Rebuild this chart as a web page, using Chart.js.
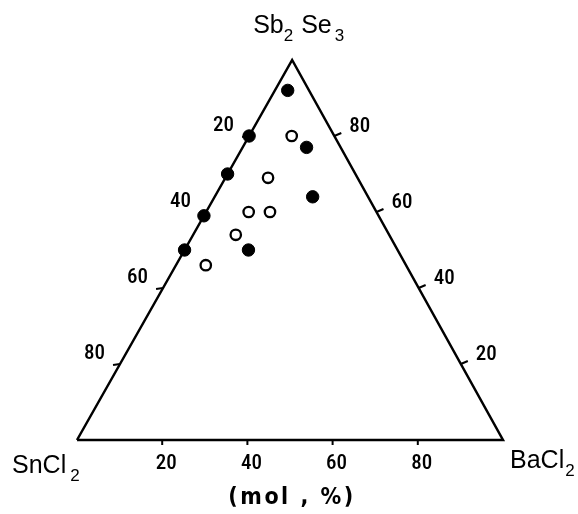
<!DOCTYPE html>
<html lang="en">
  <head>
    <meta charset="UTF-8" />
    <title>Sb2Se3 - SnCl2 - BaCl2</title>
    <style>
      body { margin: 0; background: #fff; }
    </style>
  </head>
  <body>
    <canvas id="ternary" width="578" height="514"></canvas>
    <script src="https://cdn.jsdelivr.net/npm/chart.js"></script>
    <script>
      // compositions, mol %
      const tickValues = [20, 40, 60, 80];

      const filledSb2Se3 = [92, 77, 80, 70, 64, 59, 50, 50];
      const filledBaCl2 = [3, 15, 0, 0, 23, 0, 15, 0];
      const filledSnCl2 = [5, 8, 20, 30, 13, 41, 35, 50];

      const openSb2Se3 = [80, 69, 60, 60, 54, 46];
      const openBaCl2 = [10, 10, 10, 15, 10, 7];
      const openSnCl2 = [10, 21, 30, 25, 36, 47];

      // apex sits a little right of the base centre in the original drawing
      const APEX = 0.505;

      const toXY = (sb, ba, sn) => {
        const total = sb + ba + sn;
        const a = (sb / total) * 100;
        const b = (ba / total) * 100;
        return { x: b + APEX * a, y: a };
      };

      const filledPoints = filledSb2Se3.map((v, i) =>
        toXY(v, filledBaCl2[i], filledSnCl2[i])
      );
      const openPoints = openSb2Se3.map((v, i) =>
        toXY(v, openBaCl2[i], openSnCl2[i])
      );
      const frame = [
        toXY(0, 0, 100),
        toXY(0, 100, 0),
        toXY(100, 0, 0),
        toXY(0, 0, 100),
      ];

      const SANS = '"Liberation Sans", Arial, sans-serif';
      const NUM = '500 21px "Roboto Condensed", "DejaVu Sans Condensed", sans-serif';

      const drawFormula = (ctx, parts, x, y) => {
        parts.forEach(([text, sub, gap]) => {
          ctx.font = (sub ? "17px " : "25px ") + SANS;
          ctx.fillText(text, x, sub ? y + 8 : y);
          x += ctx.measureText(text).width + (gap || 0);
        });
      };

      const ternaryAxes = {
        id: "ternaryAxes",
        afterDatasetsDraw(chart) {
          const { ctx } = chart;
          const { x, y } = chart.scales;
          const px = (p) => [x.getPixelForValue(p.x), y.getPixelForValue(p.y)];
          const seg = (x1, y1, x2, y2) => {
            ctx.beginPath();
            ctx.moveTo(x1, y1);
            ctx.lineTo(x2, y2);
            ctx.stroke();
          };
          ctx.save();
          ctx.strokeStyle = "#000";
          ctx.fillStyle = "#000";
          ctx.lineWidth = 2;
          ctx.font = NUM;
          ctx.textBaseline = "alphabetic";

          tickValues.forEach((v) => {
            // BaCl2 along the base
            const [bx, by] = px(toXY(0, v, 100 - v));
            seg(bx, by, bx, by + 5);
            ctx.textAlign = "center";
            ctx.fillText(String(v), bx + 4, by + 29);

            // Sb2Se3 along the right side
            const [rx, ry] = px(toXY(v, 100 - v, 0));
            seg(rx, ry, rx + 7, ry - 3);
            ctx.textAlign = "left";
            ctx.fillText(String(v), rx + 15, ry - 4);

            // SnCl2 along the left side
            const [lx, ly] = px(toXY(100 - v, 0, v));
            seg(lx, ly, lx - 7, ly + 1);
            ctx.textAlign = "right";
            ctx.fillText(String(v), lx - 15, ly - 5);
          });

          const [Lx, Ly] = px(frame[0]);
          const [Rx, Ry] = px(frame[1]);
          const [Ax, Ay] = px(frame[2]);

          ctx.textAlign = "left";
          drawFormula(ctx, [["Sb"], ["2", true, 8], ["Se", false, 3], ["3", true]], Ax - 39, Ay - 27);
          drawFormula(ctx, [["SnC"], ["l", false, 4], ["2", true]], Lx - 65, Ly + 33);
          drawFormula(ctx, [["BaC"], ["l", false, 1], ["2", true]], Rx + 7, Ry + 28);

          ctx.font = 'bold 23px "DejaVu Sans Condensed", "DejaVu Sans", sans-serif';
          ctx.textAlign = "center";
          if ("letterSpacing" in ctx) ctx.letterSpacing = "2.5px";
          ctx.fillText("(mol , %)", (Lx + Rx) / 2 + 2, Ly + 64);
          ctx.restore();
        },
      };

      new Chart(document.getElementById("ternary"), {
        type: "scatter",
        data: {
          datasets: [
            {
              label: "filled",
              data: filledPoints,
              pointRadius: 6.2,
              pointBackgroundColor: "#000",
              pointBorderColor: "#000",
              pointBorderWidth: 1,
              order: 0,
              clip: false,
            },
            {
              label: "open",
              data: openPoints,
              pointRadius: 5.2,
              pointBackgroundColor: "#fff",
              pointBorderColor: "#000",
              pointBorderWidth: 2.3,
              order: 0,
              clip: false,
            },
            {
              type: "line",
              label: "frame",
              data: frame,
              borderColor: "#000",
              borderWidth: 2.5,
              borderJoinStyle: "miter",
              pointRadius: 0,
              fill: false,
              tension: 0,
              order: 1,
              clip: false,
            },
          ],
        },
        options: {
          responsive: false,
          animation: false,
          layout: { padding: { left: 77, right: 75, top: 60, bottom: 74 } },
          scales: {
            x: { type: "linear", min: 0, max: 100, display: false },
            y: { type: "linear", min: 0, max: 100, display: false },
          },
          plugins: {
            legend: { display: false },
            tooltip: { enabled: false },
          },
        },
        plugins: [ternaryAxes],
      });
    </script>
  </body>
</html>
